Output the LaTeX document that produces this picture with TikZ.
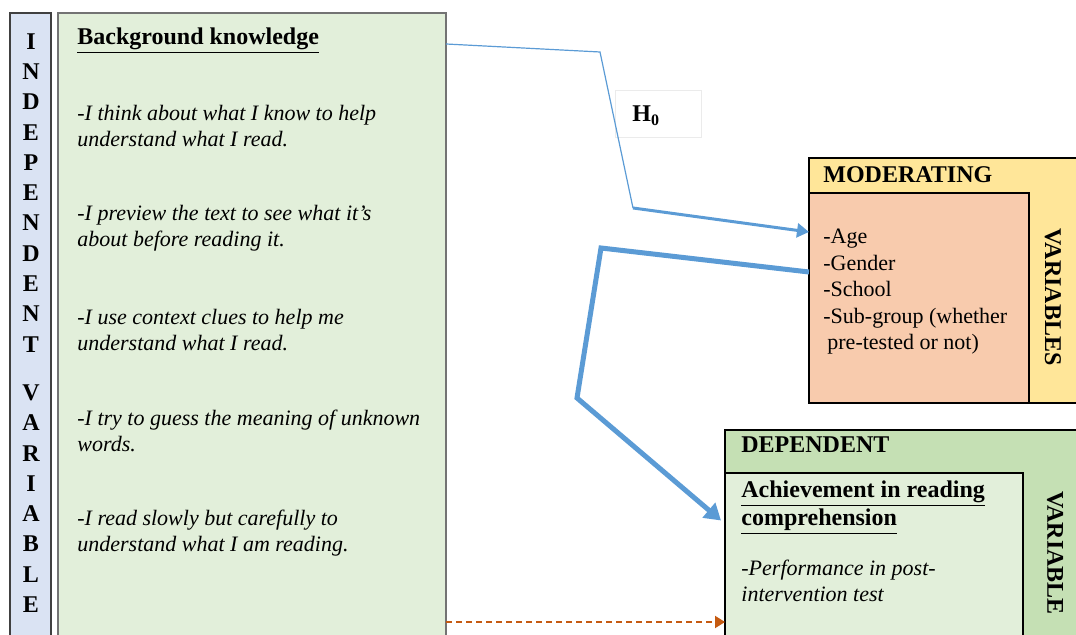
\documentclass[tikz,border=0pt]{standalone}
\usepackage{fontspec}
\setmainfont{Liberation Serif}
\usetikzlibrary{arrows.meta,calc}

\definecolor{stripblue}{HTML}{DAE3F3}
\definecolor{palegreen}{HTML}{E2EFDA}
\definecolor{midgreen}{HTML}{C5E0B4}
\definecolor{modyellow}{HTML}{FFE699}
\definecolor{modpeach}{HTML}{F8CBAD}
\definecolor{linkblue}{HTML}{5B9BD5}
\definecolor{dashorange}{HTML}{C55A11}

\tikzset{
	box/.style={draw, anchor=north west, inner sep=0pt, outer sep=0pt},
	body/.style={anchor=west, align=left, inner sep=0pt, font=\fontsize{11}{13}\selectfont},
	head/.style={anchor=west, align=left, inner sep=0pt, font=\fontsize{12}{14}\selectfont\bfseries},
	side/.style={inner sep=0pt, font=\fontsize{12}{14}\selectfont\bfseries, rotate=-90},
	link/.style={draw=linkblue, line join=miter},
}

\begin{document}
\begin{tikzpicture}[x=0.5pt, y=-0.5pt]
			\useasboundingbox (0,0) rectangle (1076,635);
			% independent variable
			\node[box, draw=black!75, line width=0.8pt, fill=stripblue, minimum width=20.5pt, minimum height=313.5pt](strip) at (10,13){};
			\node[anchor=north, inner sep=0pt, align=center, font=\fontsize{12}{15.15}\selectfont\bfseries](stripT) at (31,33){I\\N\\D\\E\\P\\E\\N\\D\\E\\N\\T\\[9pt]V\\A\\R\\I\\A\\B\\L\\E};
			\node[box, draw=black!55, line width=1pt, fill=palegreen, minimum width=194pt, minimum height=313.5pt](bk) at (58,13){};
			\node[head](bkT) at (77,41){\underline{Background knowledge}};
			\node[body, font=\fontsize{11}{13}\selectfont\itshape](i1) at (77,126){-I think about what I know to help\\understand what I read.};
			\node[body, font=\fontsize{11}{13}\selectfont\itshape](i2) at (77,228){-I preview the text to see what it's\\about before reading it.};
			\node[body, font=\fontsize{11}{13}\selectfont\itshape](i3) at (77,330){-I use context clues to help me\\understand what I read.};
			\node[body, font=\fontsize{11}{13}\selectfont\itshape](i4) at (77,431){-I try to guess the meaning of unknown\\words.};
			\node[body, font=\fontsize{11}{13}\selectfont\itshape](i5) at (77,533){-I read slowly but carefully to\\understand what I am reading.};
			% hypothesis
			\node[box, draw=black!8, minimum width=43pt, minimum height=23.5pt](h0) at (615,90){};
			\node[head](h0T) at (632,116){H\textsubscript{0}};
			% moderating variables
			\node[box, line width=0.6pt, fill=modyellow, minimum width=135.5pt, minimum height=122.5pt](mod) at (809,158){};
			\node[box, line width=0.6pt, fill=modpeach, minimum width=110pt, minimum height=105pt](modin) at (809,193){};
			\node[head](modT) at (823,175){MODERATING};
			\node[body, font=\fontsize{11}{13.25}\selectfont](modL) at (823,292){-Age\\-Gender\\-School\\-Sub-group (whether\\\hspace{2pt}pre-tested or not)};
			\node[side](modS) at (1053,297){VARIABLES};
			% dependent variable
			\node[box, line width=0.6pt, fill=midgreen, minimum width=177.5pt, minimum height=105pt](dep) at (725,430){};
			\node[box, line width=0.6pt, fill=palegreen, minimum width=149pt, minimum height=83.5pt](depin) at (725,473){};
			\node[head](depT) at (741,445){DEPENDENT};
			\node[head](depH) at (741,508){\underline{Achievement in reading}\\\underline{comprehension}};
			\node[body, font=\fontsize{11}{13}\selectfont\itshape](depL) at (741,581){-Performance in post-\\intervention test};
			\node[side](depS) at (1055,553){VARIABLE};
			% links
			\coordinate (b1) at (600,52);
			\coordinate (b2) at (633,208);
			\coordinate (b3) at (601,248);
			\coordinate (b4) at (577,398);
			\coordinate (dashy) at (0,622);
			\draw[link, line width=0.6pt] ([yshift=-15.5pt]bk.north east) -- (b1) -- (b2);
			\draw[link, line width=1.5pt, -{Triangle[length=6pt, width=7pt]}] (b2) -- ([yshift=-37pt]mod.north west);
			\draw[link, line width=2.5pt, -{Triangle[length=8pt, width=9.5pt]}] ([yshift=13pt]modin.west) -- (b3) -- (b4) -- ([yshift=18pt, xshift=-2pt]depin.west);
			\draw[dashorange, line width=1pt, dash pattern={on 3pt off 2pt}, -{Triangle[length=5pt, width=6pt]}] (bk.east |- dashy) -- (depin.west |- dashy);
		\end{tikzpicture}
\end{document}
